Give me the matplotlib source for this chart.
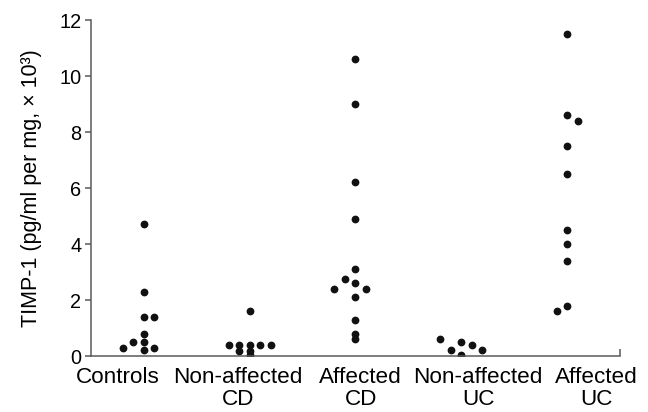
import matplotlib
matplotlib.use("Agg")
import matplotlib.pyplot as plt
import numpy as np

plt.rcParams['font.family'] = ['Liberation Sans', 'DejaVu Sans']

# group labels and tick label positions
GROUPS = ["Controls", "Non-affected\nCD", "Affected\nCD", "Non-affected\nUC", "Affected\nUC"]
LABEL_POS = [0.75, 1.89, 3.05, 4.16, 5.28]

# TIMP-1 values (x 10^3), with horizontal dodge per point
controls = [4.7, 2.3, 1.4, 1.4, 0.8, 0.5, 0.5, 0.28, 0.28, 0.2]
controls_dx = [0, 0, 0, 0.1, 0, -0.1, 0, -0.2, 0.1, 0]

na_cd = [1.6, 0.4, 0.4, 0.4, 0.4, 0.4, 0.18, 0.18, 0.03]
na_cd_dx = [0, -0.2, -0.1, 0, 0.1, 0.2, -0.1, 0, 0]

aff_cd = [10.6, 9.0, 6.2, 4.9, 3.1, 2.75, 2.6, 2.4, 2.4, 2.1, 1.3, 0.8, 0.6]
aff_cd_dx = [0, 0, 0, 0, 0, -0.1, 0, -0.2, 0.1, 0, 0, 0, 0]

na_uc = [0.6, 0.5, 0.4, 0.2, 0.2, 0.04]
na_uc_dx = [-0.2, 0, 0.1, -0.1, 0.2, 0]

aff_uc = [11.5, 8.6, 8.4, 7.5, 6.5, 4.5, 4.0, 3.4, 1.8, 1.6]
aff_uc_dx = [0, 0, 0.1, 0, 0, 0, 0, 0, 0, -0.1]

series = [(controls, controls_dx), (na_cd, na_cd_dx), (aff_cd, aff_cd_dx),
          (na_uc, na_uc_dx), (aff_uc, aff_uc_dx)]

SPINE = "#5a5a5a"

fig = plt.figure(figsize=(6.48, 4.12), dpi=100)
ax = fig.add_axes([0.1404, 0.1359, 0.8164, 0.8155])

for i, (vals, dx) in enumerate(series):
    x = i + 1 + np.array(dx)
    ax.plot(x, vals, 'o', color="#111111", markersize=5.6, markeredgewidth=0)

ax.set_xlim(0.5, 5.5)
ax.set_ylim(0, 12)
ax.set_yticks(range(0, 13, 2))
ax.set_xticks(LABEL_POS)
ax.set_xticklabels(GROUPS, fontsize=16.2, linespacing=1.05)
ax.set_xticks([5.5], minor=True)

ax.tick_params(axis='x', which='major', length=0, pad=8)
ax.tick_params(axis='x', which='minor', direction='in', length=5, width=1.1, color=SPINE)
ax.tick_params(axis='y', length=4, width=1.1, color=SPINE, pad=3, labelsize=14.3)

ax.set_ylabel("TIMP-1 (pg/ml per mg, \u00d7 10\u00b3)", fontsize=15.5, labelpad=12)

for side in ("top", "right"):
    ax.spines[side].set_visible(False)
for side in ("left", "bottom"):
    ax.spines[side].set_color(SPINE)
    ax.spines[side].set_linewidth(1.1)

fig.savefig("out.png", dpi=100)
